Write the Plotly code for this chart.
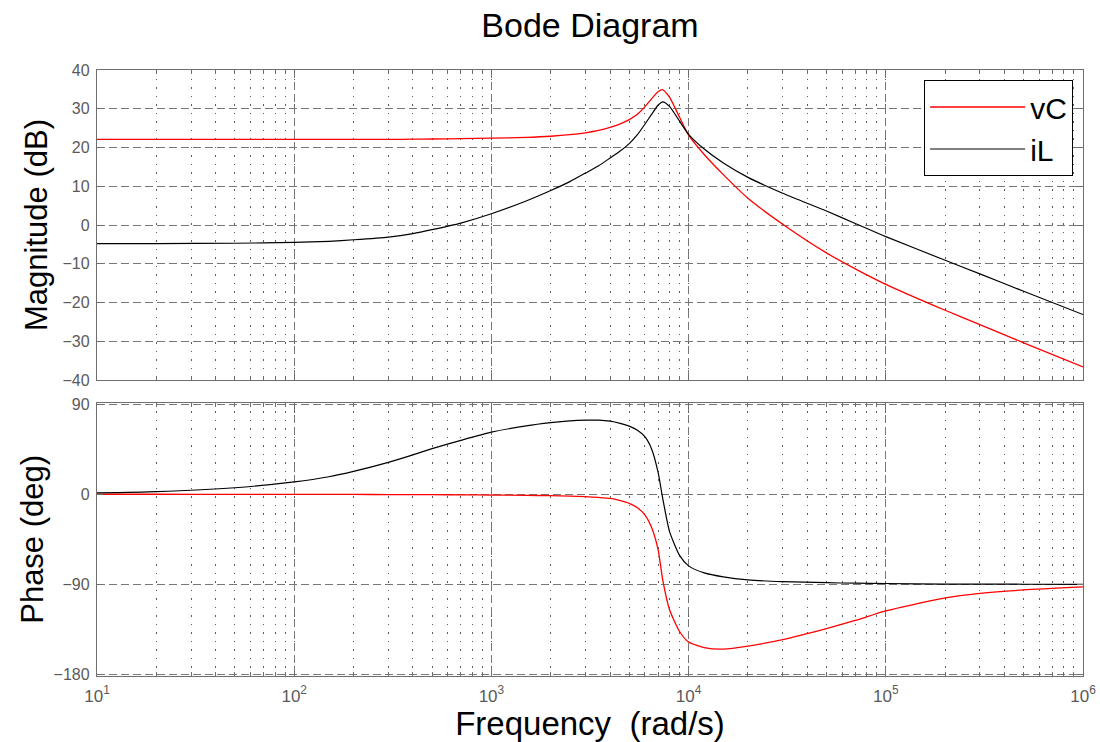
import plotly.graph_objects as go
from plotly.subplots import make_subplots

# ---- data ----
freq = [10, 20, 50, 100, 150, 200, 300, 400, 500, 700, 1000, 1500, 2000, 2500, 3000,
        3500, 4000, 4500, 5000, 5500, 6000, 6500, 7000, 7400, 8000, 9000, 10000,
        12000, 15000, 20000, 30000, 50000, 70000, 100000, 200000, 300000, 500000,
        1000000]

vc_mag = [22.1, 22.1, 22.1, 22.1, 22.1, 22.1, 22.1, 22.15, 22.2, 22.3, 22.4, 22.6, 22.9,
          23.3, 23.8, 24.4, 25.2, 26.1, 27.2, 28.6, 30.5, 32.6, 34.4, 34.9, 33.0, 27.8,
          23.2, 18.2, 13.0, 6.9, 0.2, -7.2, -11.3, -15.3, -22.0, -25.7, -30.4, -36.6]

il_mag = [-4.8, -4.8, -4.7, -4.5, -4.2, -3.8, -3.1, -2.2, -1.2, 0.5, 2.9, 6.2, 8.9,
          11.2, 13.4, 15.3, 17.3, 19.1, 21.0, 23.3, 26.0, 28.6, 30.9, 31.8, 30.6, 26.8,
          23.4, 19.6, 16.0, 12.3, 8.2, 3.6, 0.4, -3.0, -9.1, -12.6, -17.1, -23.1]

vc_phase = [0.0, 0.0, -0.05, -0.1, -0.15, -0.2, -0.3, -0.35, -0.4, -0.6, -0.8, -1.1,
            -1.4, -1.9, -2.4, -3.2, -4.2, -6.3, -9.0, -13.5, -20.5, -33.5, -55.0, -86.0,
            -115.0, -137.0, -147.5, -153.0, -154.5, -151.5, -145.0, -134.0, -126.0,
            -116.5, -103.5, -99.0, -95.5, -92.5]

il_phase = [1.3, 2.6, 6.5, 12.3, 17.5, 22.8, 31.8, 39.3, 45.5, 53.8, 62.0, 68.3, 71.5,
            73.3, 74.0, 74.0, 73.0, 70.8, 68.0, 63.8, 57.5, 45.0, 22.0, -4.5, -37.0,
            -61.0, -71.5, -78.5, -82.5, -85.5, -87.2, -88.3, -88.8, -89.1, -89.6, -89.7,
            -89.8, -89.9]

x_tickvals = [1e1, 1e2, 1e3, 1e4, 1e5, 1e6]
x_ticktext = ["10<sup>1</sup>", "10<sup>2</sup>", "10<sup>3</sup>",
              "10<sup>4</sup>", "10<sup>5</sup>", "10<sup>6</sup>"]
mag_ticks = [40, 30, 20, 10, 0, -10, -20, -30, -40]
phase_ticks = [90, 0, -90, -180]

RED = "#ff0000"
BLACK = "#000000"
GRID = "#777777"
MINOR_GRID = "#5c5c5c"
AXIS = "#6e6e6e"
FAMILY = "Liberation Sans, Arial, sans-serif"
TICKFONT = dict(family=FAMILY, size=16, color="#5a5a5a")
LINE_SHAPE = dict(shape="spline", smoothing=0.6)

fig = make_subplots(rows=2, cols=1, shared_xaxes=True)

fig.add_trace(go.Scatter(x=freq, y=vc_mag, mode="lines", name="vC",
                         line=dict(color=RED, width=1.3, **LINE_SHAPE)),
              row=1, col=1)
fig.add_trace(go.Scatter(x=freq, y=il_mag, mode="lines", name="iL",
                         line=dict(color=BLACK, width=1.2, **LINE_SHAPE)),
              row=1, col=1)
fig.add_trace(go.Scatter(x=freq, y=vc_phase, mode="lines", name="vC", showlegend=False,
                         line=dict(color=RED, width=1.3, **LINE_SHAPE)),
              row=2, col=1)
fig.add_trace(go.Scatter(x=freq, y=il_phase, mode="lines", name="iL", showlegend=False,
                         line=dict(color=BLACK, width=1.2, **LINE_SHAPE)),
              row=2, col=1)

xcommon = dict(type="log", range=[1, 6], tickvals=x_tickvals, ticktext=x_ticktext,
               showgrid=True, gridcolor=GRID, griddash="8px,4px", gridwidth=1,
               showline=True, linecolor=AXIS, linewidth=1.3, mirror="allticks",
               ticks="inside", ticklen=6, tickcolor=AXIS, zeroline=False,
               tickfont=dict(family=FAMILY, size=17, color="#5a5a5a"),
               automargin=False, ticklabeloverflow="allow", ticklabelstandoff=4,
               minor=dict(dtick="D1", ticks="inside", ticklen=4, tickcolor=AXIS,
                          showgrid=True, gridcolor=MINOR_GRID, griddash="1.5px,7px",
                          gridwidth=1))

fig.update_xaxes(**xcommon)
fig.update_xaxes(showticklabels=False, row=1, col=1)
fig.update_xaxes(showticklabels=True, row=2, col=1,
                 title=dict(text="Frequency  (rad/s)", standoff=11,
                            font=dict(family=FAMILY, size=33, color="black")))

ycommon = dict(showgrid=True, gridcolor=GRID, griddash="8px,4px", gridwidth=1,
               showline=True, linecolor=AXIS, linewidth=1.3, mirror="allticks",
               ticks="inside", ticklen=6, tickcolor=AXIS, zeroline=False,
               tickfont=TICKFONT, automargin=False, ticklabelstandoff=3)

fig.update_yaxes(**ycommon)
fig.update_yaxes(range=[-40, 40], tickvals=mag_ticks, domain=[0.4884, 1.0],
                 title=dict(text="Magnitude (dB)", standoff=5,
                            font=dict(family=FAMILY, size=31, color="black")),
                 row=1, col=1)
fig.update_yaxes(range=[-181.4, 91.4], tickvals=phase_ticks, domain=[0.0, 0.451],
                 title=dict(text="Phase (deg)", standoff=0,
                            font=dict(family=FAMILY, size=31, color="black")),
                 row=2, col=1)

fig.update_layout(
    width=1100, height=742,
    margin=dict(l=97, r=17, t=70, b=66, autoexpand=False),
    paper_bgcolor="white", plot_bgcolor="white",
    title=dict(text="Bode Diagram", x=0.5, xref="paper", xanchor="center",
               y=1 - 25 / 742, yref="container", yanchor="middle",
               font=dict(family=FAMILY, size=34, color="black")),
    legend=dict(x=0.99, y=0.9835, xanchor="right", yanchor="top",
                bgcolor="white", bordercolor="black", borderwidth=1,
                itemwidth=95, tracegroupgap=0,
                font=dict(family=FAMILY, size=30, color="black")),
    showlegend=True,
)

fig.write_html("out.html", config={"displayModeBar": False},
               post_script="document.body.style.margin='0';document.body.style.padding='0';")
